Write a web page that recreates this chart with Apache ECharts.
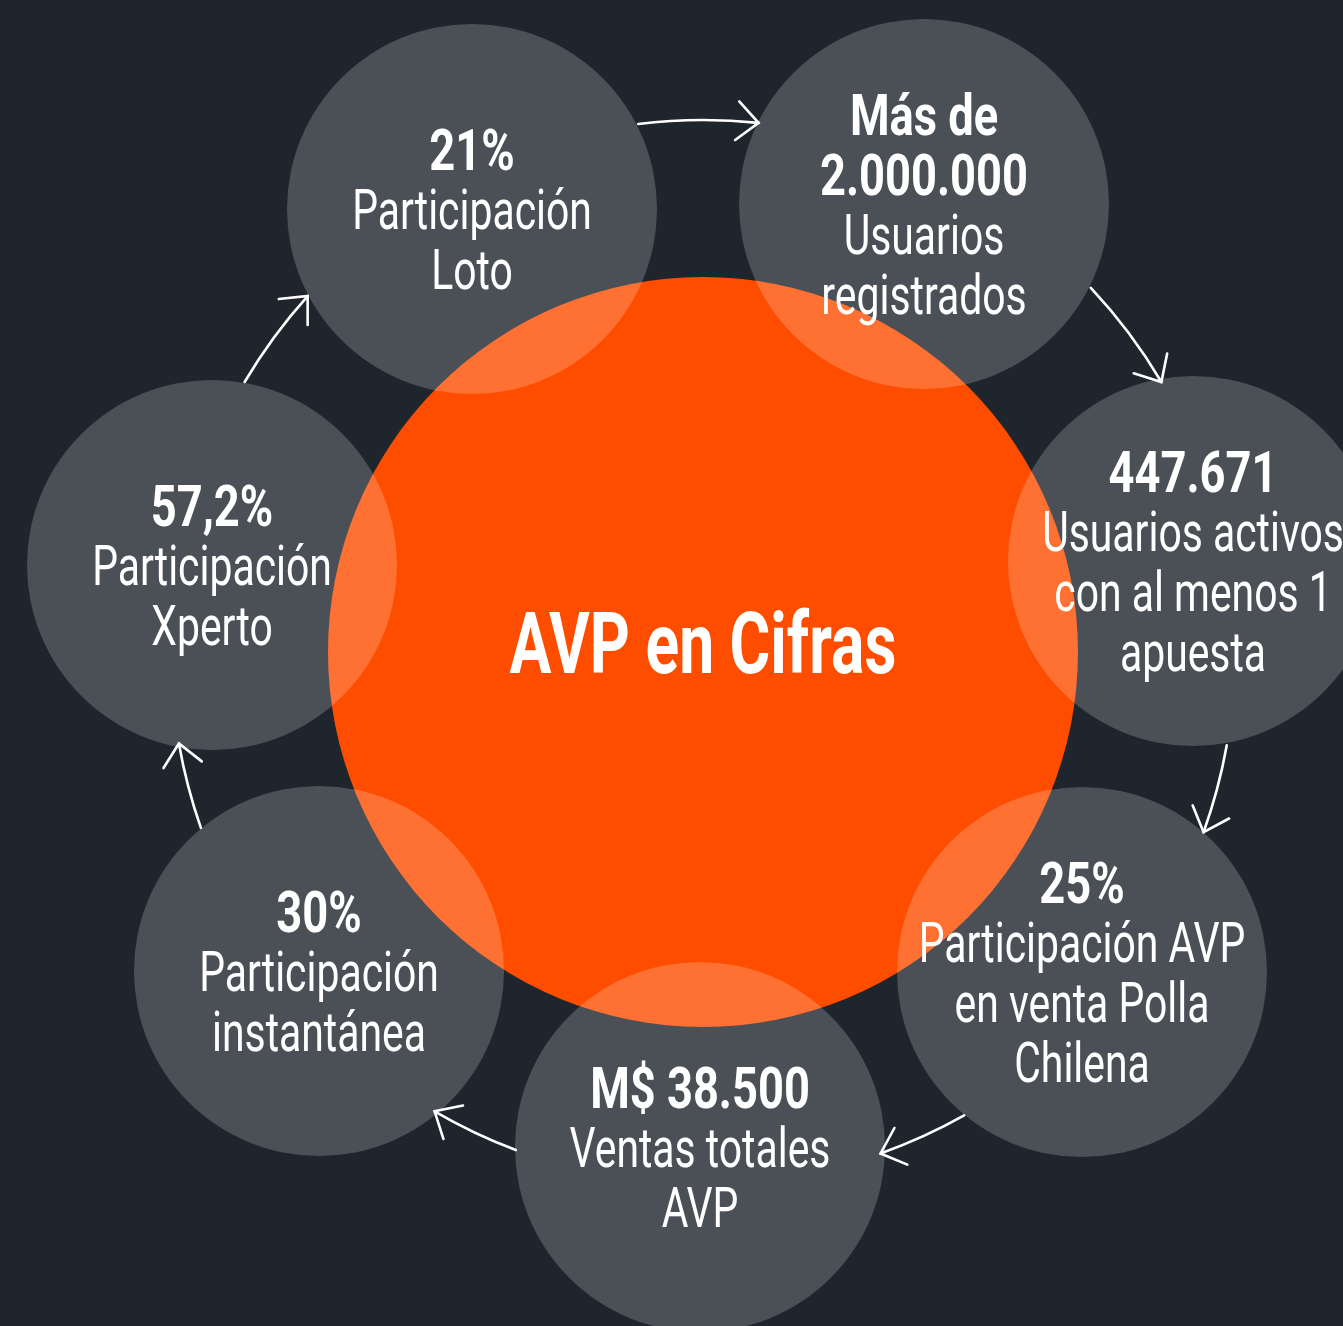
<!DOCTYPE html>
<html>
<head>
<meta charset="utf-8">
<style>
  html, body { margin: 0; padding: 0; background: #1e252d; }
  #chart { width: 1343px; height: 1326px; }
</style>
<script src="https://cdn.jsdelivr.net/npm/echarts@6/dist/echarts.min.js"></script>
</head>
<body>
<div id="chart"></div>
<script>
// centro naranja
const hubX = 703;
const hubY = 652;
const hubSize = 750;
const hubTitle = 'AVP en Cifras';

// circulos grises (centro y diámetro)
const circleX = [472, 924, 1193, 1082, 700, 319, 212];
const circleY = [209, 204, 561, 972, 1147, 971, 565];
const circleSize = [370, 370, 370, 370, 370, 370, 370];
const headlines = ['21%', 'Más de\n2.000.000', '447.671', '25%', 'M$ 38.500', '30%', '57,2%'];
const captions = [
  'Participación\nLoto',
  'Usuarios\nregistrados',
  'Usuarios activos\ncon al menos 1\napuesta',
  'Participación AVP\nen venta Polla\nChilena',
  'Ventas totales\nAVP',
  'Participación\ninstantánea',
  'Participación\nXperto'
];

// flechas: arcos alrededor del centro (grados, sentido horario)
const arrowRadius = 532;
const arrowStart = [-97, -43.2, 10.1, 60.6, 110.6, 160.7, 210.5];
const arrowEnd = [-84, -30.5, 19.8, 70.5, 120.3, 170.1, 222];

const W = 1343, H = 1326;
const lineStep = 60;
const textShift = 6; // ajuste vertical del texto
const fontFamily = 'Roboto, "Noto Sans", sans-serif';

const chart = echarts.init(document.getElementById('chart'));

function renderArrow(params, api) {
  const c = api.coord([hubX, hubY]);
  const r = api.size([arrowRadius, 0])[0];
  const a0 = api.value(0) * Math.PI / 180;
  const a1 = api.value(1) * Math.PI / 180;
  const tip = [c[0] + r * Math.cos(a1), c[1] + r * Math.sin(a1)];
  // dirección hacia atrás de la punta
  const back = Math.atan2(-Math.cos(a1), Math.sin(a1));
  const arm = 29, spread = 42 * Math.PI / 180;
  const p1 = [tip[0] + arm * Math.cos(back + spread), tip[1] + arm * Math.sin(back + spread)];
  const p2 = [tip[0] + arm * Math.cos(back - spread), tip[1] + arm * Math.sin(back - spread)];
  const stroke = { stroke: '#ffffff', lineWidth: 2.6, fill: null, lineCap: 'round', lineJoin: 'miter' };
  return {
    type: 'group',
    children: [
      { type: 'arc', shape: { cx: c[0], cy: c[1], r: r, startAngle: a0, endAngle: a1, clockwise: true }, style: stroke },
      { type: 'polyline', shape: { points: [p1, tip, p2] }, style: stroke }
    ]
  };
}

function textLine(x, y, text, bold, size, scaleX) {
  return {
    type: 'text',
    x: x,
    y: y,
    scaleX: scaleX,
    style: {
      text: text,
      font: (bold ? 'bold ' : '') + size + 'px ' + fontFamily,
      fill: '#ffffff',
      align: 'center',
      verticalAlign: 'middle'
    }
  };
}

function renderLabel(params, api) {
  const i = params.dataIndex;
  const p = api.coord([api.value(0), api.value(1)]);
  const heads = headlines[i].split('\n');
  const caps = captions[i].split('\n');
  const n = heads.length + caps.length;
  const children = [];
  heads.forEach((t, k) => {
    children.push(textLine(p[0], p[1] + textShift + (k - (n - 1) / 2) * lineStep, t, true, 58, 0.78));
  });
  caps.forEach((t, k) => {
    const idx = heads.length + k;
    children.push(textLine(p[0], p[1] + textShift + (idx - (n - 1) / 2) * lineStep, t, false, 56, 0.73));
  });
  return { type: 'group', children: children };
}

function renderTitle(params, api) {
  const p = api.coord([api.value(0), api.value(1)]);
  return textLine(p[0], p[1] - 1, hubTitle, true, 86, 0.725);
}

chart.setOption({
  backgroundColor: '#1e252d',
  animation: false,
  grid: { left: 0, right: 0, top: 0, bottom: 0 },
  xAxis: { type: 'value', min: 0, max: W, show: false },
  yAxis: { type: 'value', min: 0, max: H, inverse: true, show: false },
  series: [
    {
      type: 'scatter',
      silent: true,
      z: 1,
      data: [[hubX, hubY, hubSize]],
      symbolSize: v => v[2],
      itemStyle: { color: '#ff4d00', opacity: 1 }
    },
    {
      type: 'scatter',
      silent: true,
      z: 2,
      data: circleX.map((x, i) => [x, circleY[i], circleSize[i]]),
      symbolSize: v => v[2],
      itemStyle: { color: 'rgba(255,255,255,0.2)', opacity: 1 }
    },
    {
      type: 'custom',
      silent: true,
      z: 3,
      clip: false,
      data: arrowStart.map((s, i) => [s, arrowEnd[i]]),
      renderItem: renderArrow
    },
    {
      type: 'custom',
      silent: true,
      z: 4,
      clip: false,
      data: circleX.map((x, i) => [x, circleY[i]]),
      renderItem: renderLabel
    },
    {
      type: 'custom',
      silent: true,
      z: 5,
      data: [[hubX, hubY]],
      renderItem: renderTitle
    }
  ]
});
</script>
</body>
</html>
